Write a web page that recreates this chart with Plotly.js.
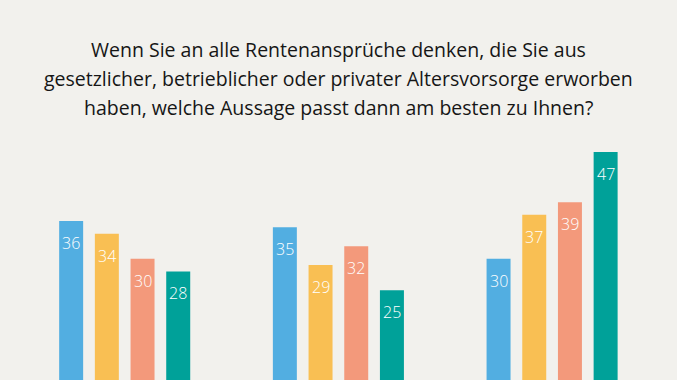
<!DOCTYPE html>
<html>
<head>
<meta charset="utf-8">
<script src="https://cdn.plot.ly/plotly-3.0.1.min.js"></script>
<style>html,body{margin:0;padding:0;background:#F2F1ED;}#chart{width:677px;height:380px;}</style>
</head>
<body>
<div id="chart"></div>
<script>
const groups = ["Gruppe 1", "Gruppe 2", "Gruppe 3"];
const seriesNames = ["Aussage 1", "Aussage 2", "Aussage 3", "Aussage 4"];
const series1 = [36, 35, 30];
const series2 = [34, 29, 37];
const series3 = [30, 32, 39];
const series4 = [28, 25, 47];
const titleLines = [
  "Wenn Sie an alle Rentenansprüche denken, die Sie aus",
  "gesetzlicher, betrieblicher oder privater Altersvorsorge erworben",
  "haben, welche Aussage passt dann am besten zu Ihnen?"
];
const colors = ["#52AEE1", "#F9BF53", "#F3997B", "#00A199"];

const allSeries = [series1, series2, series3, series4];
const TITLE_FONT = "'Open Sans', Lato, sans-serif";
const LABEL_FONT = "'Open Sans', Lato, sans-serif";
const bargap = 0.332, bargroupgap = 0.328;
const slot = (1 - bargap) / allSeries.length;

const traces = allSeries.map((vals, j) => ({
  type: "bar",
  name: seriesNames[j],
  x: groups,
  y: vals,
  marker: {color: colors[j], line: {width: 0}},
  hoverinfo: "skip"
}));

const annotations = [];
allSeries.forEach((vals, j) => {
  vals.forEach((v, i) => {
    annotations.push({
      x: i + (j - (allSeries.length - 1) / 2) * slot,
      y: v, xref: "x", yref: "y",
      text: String(v), showarrow: false,
      yanchor: "middle", yshift: -22,
      font: {family: LABEL_FONT, size: 16, weight: 300, color: "#FFFFFF"}
    });
  });
});
const titleY = [49, 78, 107];
titleLines.forEach((t, k) => {
  annotations.push({
    x: 0.5, xref: "paper", y: (380 - titleY[k]) / 240, yref: "paper",
    xanchor: "center", yanchor: "middle",
    text: t, showarrow: false,
    font: {family: TITLE_FONT, size: 19.5, color: "#161616"}
  });
});

const layout = {
  width: 677, height: 380,
  margin: {l: 0, r: 0, t: 140, b: 0, pad: 0},
  paper_bgcolor: "#F2F1ED", plot_bgcolor: "#F2F1ED",
  barmode: "group", bargap: bargap, bargroupgap: bargroupgap,
  showlegend: false,
  xaxis: {type: "category", range: [-0.5835, 2.5845], showgrid: false, zeroline: false, showticklabels: false, showline: false, ticks: ""},
  yaxis: {range: [10.73, 48.89], showgrid: false, zeroline: false, showticklabels: false, showline: false, ticks: ""},
  annotations: annotations
};
Plotly.newPlot("chart", traces, layout, {displayModeBar: false, staticPlot: true});
</script>
</body>
</html>
